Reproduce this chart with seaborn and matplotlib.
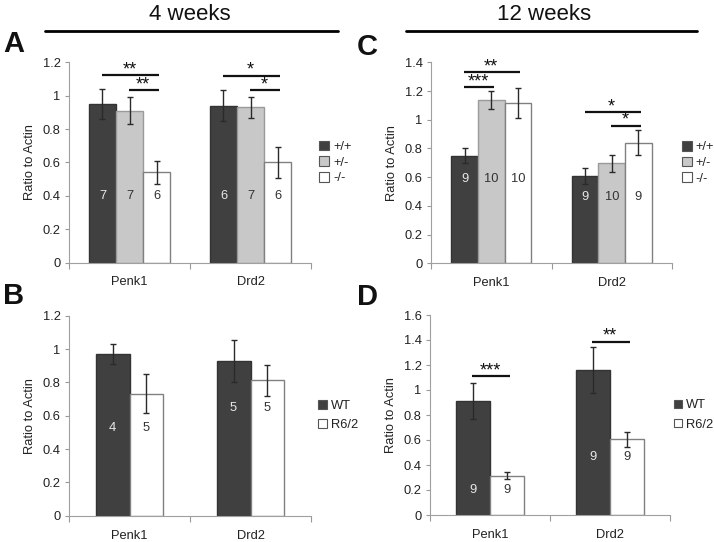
import numpy as np
import pandas as pd
import seaborn as sns
import matplotlib.pyplot as plt
from matplotlib.patches import Patch
from matplotlib.lines import Line2D
from matplotlib.ticker import FuncFormatter, FixedLocator

genes = ['Penk1', 'Drd2']
ko_groups = ['+/+', '+/-', '-/-']
hd_groups = ['WT', 'R6/2']

# A: 4 weeks, knockout (rows = gene, cols = genotype)
a_means = [[0.95, 0.91, 0.54], [0.94, 0.93, 0.60]]
a_errs = [[0.09, 0.08, 0.07], [0.094, 0.063, 0.091]]
a_ns = [[7, 7, 6], [6, 7, 6]]
a_n_y = [0.40, 0.40]
# (stars, gene, first bar, last bar, height)
a_sig = [('**', 0, 0, 2, 1.124), ('**', 0, 1, 2, 1.034),
         ('*', 1, 0, 2, 1.12), ('*', 1, 1, 2, 1.034)]

# C: 12 weeks, knockout
c_means = [[0.75, 1.138, 1.119], [0.608, 0.697, 0.84]]
c_errs = [[0.05, 0.062, 0.104], [0.053, 0.06, 0.085]]
c_ns = [[9, 10, 10], [9, 10, 9]]
c_n_y = [0.59, 0.464]
c_sig = [('**', 0, 0, 2, 1.33), ('***', 0, 0, 1, 1.23),
         ('*', 1, 0, 2, 1.052), ('*', 1, 1, 2, 0.959)]

# B: 4 weeks, R6/2
b_means = [[0.97, 0.732], [0.928, 0.812]]
b_errs = [[0.06, 0.116], [0.127, 0.093]]
b_ns = [[4, 5], [5, 5]]
b_n_y = [0.528, 0.644]
b_sig = []

# D: 12 weeks, R6/2
d_means = [[0.912, 0.315], [1.16, 0.605]]
d_errs = [[0.144, 0.03], [0.184, 0.057]]
d_ns = [[9, 9], [9, 9]]
d_n_y = [0.2, 0.467]
d_sig = [('***', 0, 0, 1, 1.112), ('**', 1, 0, 1, 1.387)]

sns.set_theme(style='white')
plt.rcParams['font.family'] = ['Liberation Sans', 'DejaVu Sans']

DARK = '#404040'
LIGHT = '#c8c8c8'
WHITE = '#ffffff'
ko_fill = [DARK, LIGHT, WHITE]
ko_edge = ['#333333', '#9a9a9a', '#808080']
ko_text = ['#e8e8e8', '#333333', '#333333']
hd_fill = [DARK, WHITE]
hd_edge = ['#333333', '#808080']
hd_text = ['#e8e8e8', '#333333']
TXT = '#222222'
FS = 9.3


def draw_panel(ax, means, errs, ns, n_y, sig, groups, fills, edges, texts,
               ymax, width, leg_x, leg_space, handle):
    df = pd.DataFrame({
        'gene': np.repeat(genes, len(groups)),
        'group': groups * len(genes),
        'ratio': np.ravel(means),
    })
    sns.barplot(data=df, x='gene', y='ratio', hue='group', order=genes,
                hue_order=groups, palette=fills, width=width, saturation=1,
                errorbar=None, legend=False, linewidth=1, ax=ax)

    bar_groups = list(ax.containers)
    centers = {}
    for h, cont in enumerate(bar_groups):
        for g, bar in enumerate(cont):
            bar.set_edgecolor(edges[h])
            bar.set_linewidth(1)
            x = bar.get_x() + bar.get_width() / 2
            centers[(g, h)] = x
            ax.errorbar(x, means[g][h], yerr=errs[g][h], fmt='none',
                        ecolor='#2a2a2a', elinewidth=1, capsize=2.5,
                        capthick=1, zorder=5)
            ax.text(x, n_y[g], str(ns[g][h]), ha='center', va='center',
                    fontsize=FS, color=texts[h])

    for stars, g, h1, h2, y in sig:
        x1, x2 = centers[(g, h1)], centers[(g, h2)]
        ax.plot([x1 - 0.005, x2 + 0.02], [y, y], color='#111111', lw=1.6,
                solid_capstyle='butt')
        ax.annotate(stars, ((x1 + x2) / 2, y), xytext=(0, 0.5),
                    textcoords='offset points', ha='center', va='baseline',
                    fontsize=13, color='#111111')

    ax.set_xlim(-0.5, 1.5)
    ax.set_ylim(0, ymax)
    ax.yaxis.set_major_locator(FixedLocator(np.arange(0, ymax + 0.01, 0.2)))
    ax.yaxis.set_major_formatter(FuncFormatter(lambda v, p: '%g' % round(v, 1)))
    ax.set_xlabel('')
    ax.set_ylabel('Ratio to Actin', fontsize=FS, color=TXT, labelpad=5)
    ax.tick_params(axis='y', which='major', direction='out', length=3,
                   width=0.8, color='#999999', pad=3, labelsize=FS,
                   labelcolor=TXT, left=True)
    ax.tick_params(axis='x', which='major', length=0, pad=10, labelsize=FS,
                   labelcolor=TXT)
    ax.xaxis.set_minor_locator(FixedLocator([-0.5, 0.5, 1.5]))
    ax.tick_params(axis='x', which='minor', direction='out', length=4,
                   width=0.8, color='#999999', bottom=True)
    for side in ['top', 'right']:
        ax.spines[side].set_visible(False)
    for side in ['left', 'bottom']:
        ax.spines[side].set_color('#a0a0a0')
        ax.spines[side].set_linewidth(0.8)

    handles = [Patch(facecolor=f, edgecolor='#555555', linewidth=0.8)
               for f in fills]
    ax.legend(handles, groups, loc='center left', bbox_to_anchor=(leg_x, 0.5),
              frameon=False, fontsize=FS, handlelength=handle,
              handleheight=handle, handletextpad=0.3, labelspacing=leg_space,
              borderpad=0, borderaxespad=0, labelcolor=TXT)


fig = plt.figure(figsize=(7.14, 5.42), dpi=100)
W, H = 714, 542


def add_axes(left, top, right, bottom):
    return fig.add_axes([left / W, 1 - bottom / H, (right - left) / W,
                         (bottom - top) / H])


ax_a = add_axes(69, 62.3, 311, 262.5)
ax_c = add_axes(431, 62.3, 672, 263.3)
ax_b = add_axes(69, 315.7, 311, 515.7)
ax_d = add_axes(430, 315, 670, 515)

draw_panel(ax_a, a_means, a_errs, a_ns, a_n_y, a_sig, ko_groups, ko_fill,
           ko_edge, ko_text, 1.2, 0.67, 1.033, 0.25, 0.8)
draw_panel(ax_c, c_means, c_errs, c_ns, c_n_y, c_sig, ko_groups, ko_fill,
           ko_edge, ko_text, 1.4, 0.66, 1.04, 0.25, 0.8)
draw_panel(ax_b, b_means, b_errs, b_ns, b_n_y, b_sig, hd_groups, hd_fill,
           hd_edge, hd_text, 1.2, 0.56, 1.03, 0.55, 0.65)
draw_panel(ax_d, d_means, d_errs, d_ns, d_n_y, d_sig, hd_groups, hd_fill,
           hd_edge, hd_text, 1.6, 0.57, 1.015, 0.55, 0.65)

# headers
fig.text(190 / W, 1 - 14 / H, '4 weeks', ha='center', va='center',
         fontsize=16, color='#111111')
fig.text(544 / W, 1 - 14 / H, '12 weeks', ha='center', va='center',
         fontsize=16, color='#111111')
fig.add_artist(Line2D([45 / W, 338 / W], [1 - 31 / H, 1 - 31 / H],
                      color='black', lw=2))
fig.add_artist(Line2D([406 / W, 697 / W], [1 - 31 / H, 1 - 31 / H],
                      color='black', lw=2))

# panel letters
for letter, x, y in [('A', 14, 44), ('C', 367, 47), ('B', 14, 296),
                     ('D', 368, 297)]:
    fig.text(x / W, 1 - y / H, letter, ha='center', va='center',
             fontsize=21, fontweight='bold', color='#111111')

fig.savefig('out.png', dpi=100, facecolor='white')
